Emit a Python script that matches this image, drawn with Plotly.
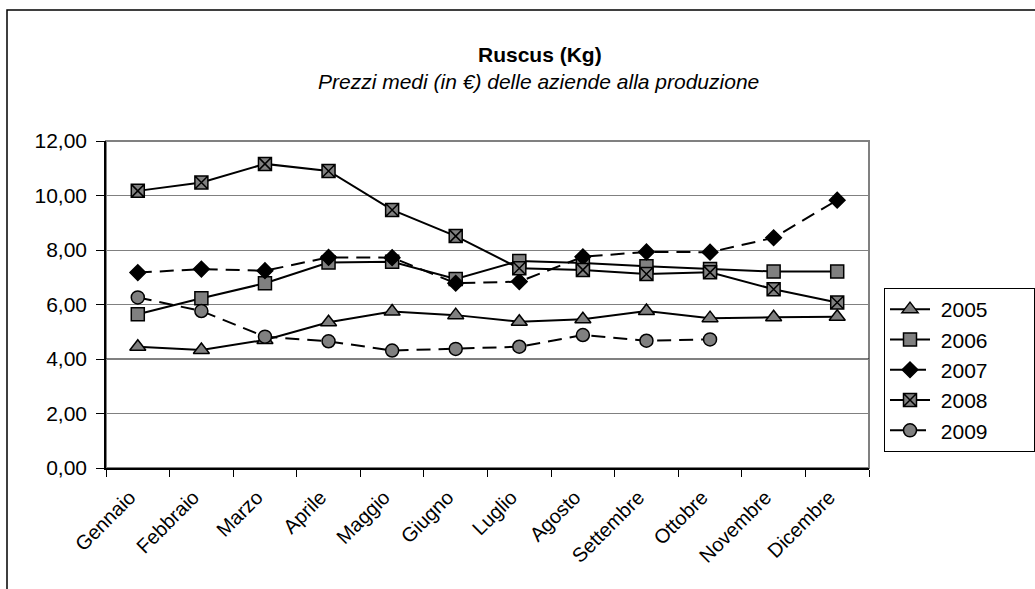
import plotly.graph_objects as go

months = ["Gennaio", "Febbraio", "Marzo", "Aprile", "Maggio", "Giugno",
          "Luglio", "Agosto", "Settembre", "Ottobre", "Novembre", "Dicembre"]

y2005 = [4.45, 4.33, 4.70, 5.35, 5.74, 5.61, 5.37, 5.46, 5.76, 5.50, 5.53, 5.55]
y2006 = [5.64, 6.23, 6.78, 7.54, 7.57, 6.94, 7.60, 7.52, 7.40, 7.30, 7.21, 7.21]
y2007 = [7.17, 7.30, 7.24, 7.73, 7.72, 6.78, 6.84, 7.75, 7.93, 7.92, 8.45, 9.83]
y2008 = [10.17, 10.48, 11.16, 10.90, 9.47, 8.51, 7.33, 7.27, 7.12, 7.18, 6.56, 6.07]
y2009 = [6.26, 5.76, 4.82, 4.65, 4.31, 4.37, 4.45, 4.88, 4.67, 4.72, None, None]

FONT = "Liberation Sans, Arial, sans-serif"
GRAY = "#808080"
NB = "\u00a0"

series = [
    ("2005", y2005, "triangle-up", GRAY, "solid", 14),
    ("2006", y2006, "square", GRAY, "solid", 13),
    ("2007", y2007, "diamond", "black", "14px,8px", 12),
    ("2008", y2008, "square-x", GRAY, "solid", 13),
    ("2009", y2009, "circle", GRAY, "14px,8px", 13),
]

fig = go.Figure()
for name, vals, sym, fill, dash, size in series:
    fig.add_trace(go.Scatter(
        x=months, y=vals, name=NB + name + NB * 7, mode="lines+markers",
        line=dict(color="black", width=2, dash=dash),
        marker=dict(symbol=sym, size=size, color=fill,
                    line=dict(color="black", width=1.5)),
        connectgaps=False,
    ))

L, R, T, B = 106, 166, 141, 121
W, H = 1035, 589
pw, ph = W - L - R, H - T - B

fig.update_layout(
    width=W, height=H,
    margin=dict(l=L, r=R, t=T, b=B, autoexpand=False),
    paper_bgcolor="white", plot_bgcolor="white",
    separators=",.",
    font=dict(family=FONT, size=20, color="black"),
    showlegend=True,
    legend=dict(x=(884 - L) / pw, y=(H - B - 288) / ph, xanchor="left", yanchor="top",
                bordercolor="black", borderwidth=1, bgcolor="white",
                font=dict(size=21), tracegroupgap=0, itemwidth=40),
    annotations=[
        dict(text="<b>Ruscus (Kg)</b>", x=(540 - L) / pw, y=(H - B - 55) / ph,
             xref="paper", yref="paper", xanchor="center", yanchor="middle",
             showarrow=False, font=dict(size=21)),
        dict(text="<i>Prezzi medi (in €) delle aziende alla produzione</i>",
             x=(538 - L) / pw, y=(H - B - 82) / ph, xref="paper", yref="paper",
             xanchor="center", yanchor="middle", showarrow=False,
             font=dict(size=21)),
    ],
)

fig.update_xaxes(
    type="category", range=[-0.5, 11.5], tickangle=-45,
    ticks="outside", tickson="boundaries", ticklen=7, tickcolor="black",
    showgrid=False, showline=True, linecolor="black", linewidth=1.5,
    tickfont=dict(size=20), zeroline=False,
    ticklabelstandoff=8, ticklabelshift=-8,
)
fig.update_yaxes(
    range=[0, 12], dtick=2, tickformat=".2f",
    ticks="outside", ticklen=8, tickcolor="black",
    showgrid=True, gridcolor=GRAY, gridwidth=1,
    showline=True, linecolor="black", linewidth=1.5,
    tickfont=dict(size=21), zeroline=False, ticklabelstandoff=5,
)

# plot-area frame (gray top/right), darker 4,00 line and outer chart border
fig.add_shape(type="rect", xref="paper", yref="paper", x0=0, x1=1, y0=0, y1=1,
              line=dict(color=GRAY, width=2), layer="below")
fig.add_shape(type="line", xref="paper", yref="y", x0=0, x1=1, y0=4, y1=4,
              line=dict(color="black", width=1), layer="below")
fig.add_shape(type="rect", xref="paper", yref="paper",
              x0=(7 - L) / pw, x1=(1050 - L) / pw,
              y0=(H - B - 620) / ph, y1=(H - B - 10) / ph,
              line=dict(color="black", width=1.5), layer="below")

fig.write_html("out.html", config={"displayModeBar": False},
               post_script="document.body.style.margin='0px';")
